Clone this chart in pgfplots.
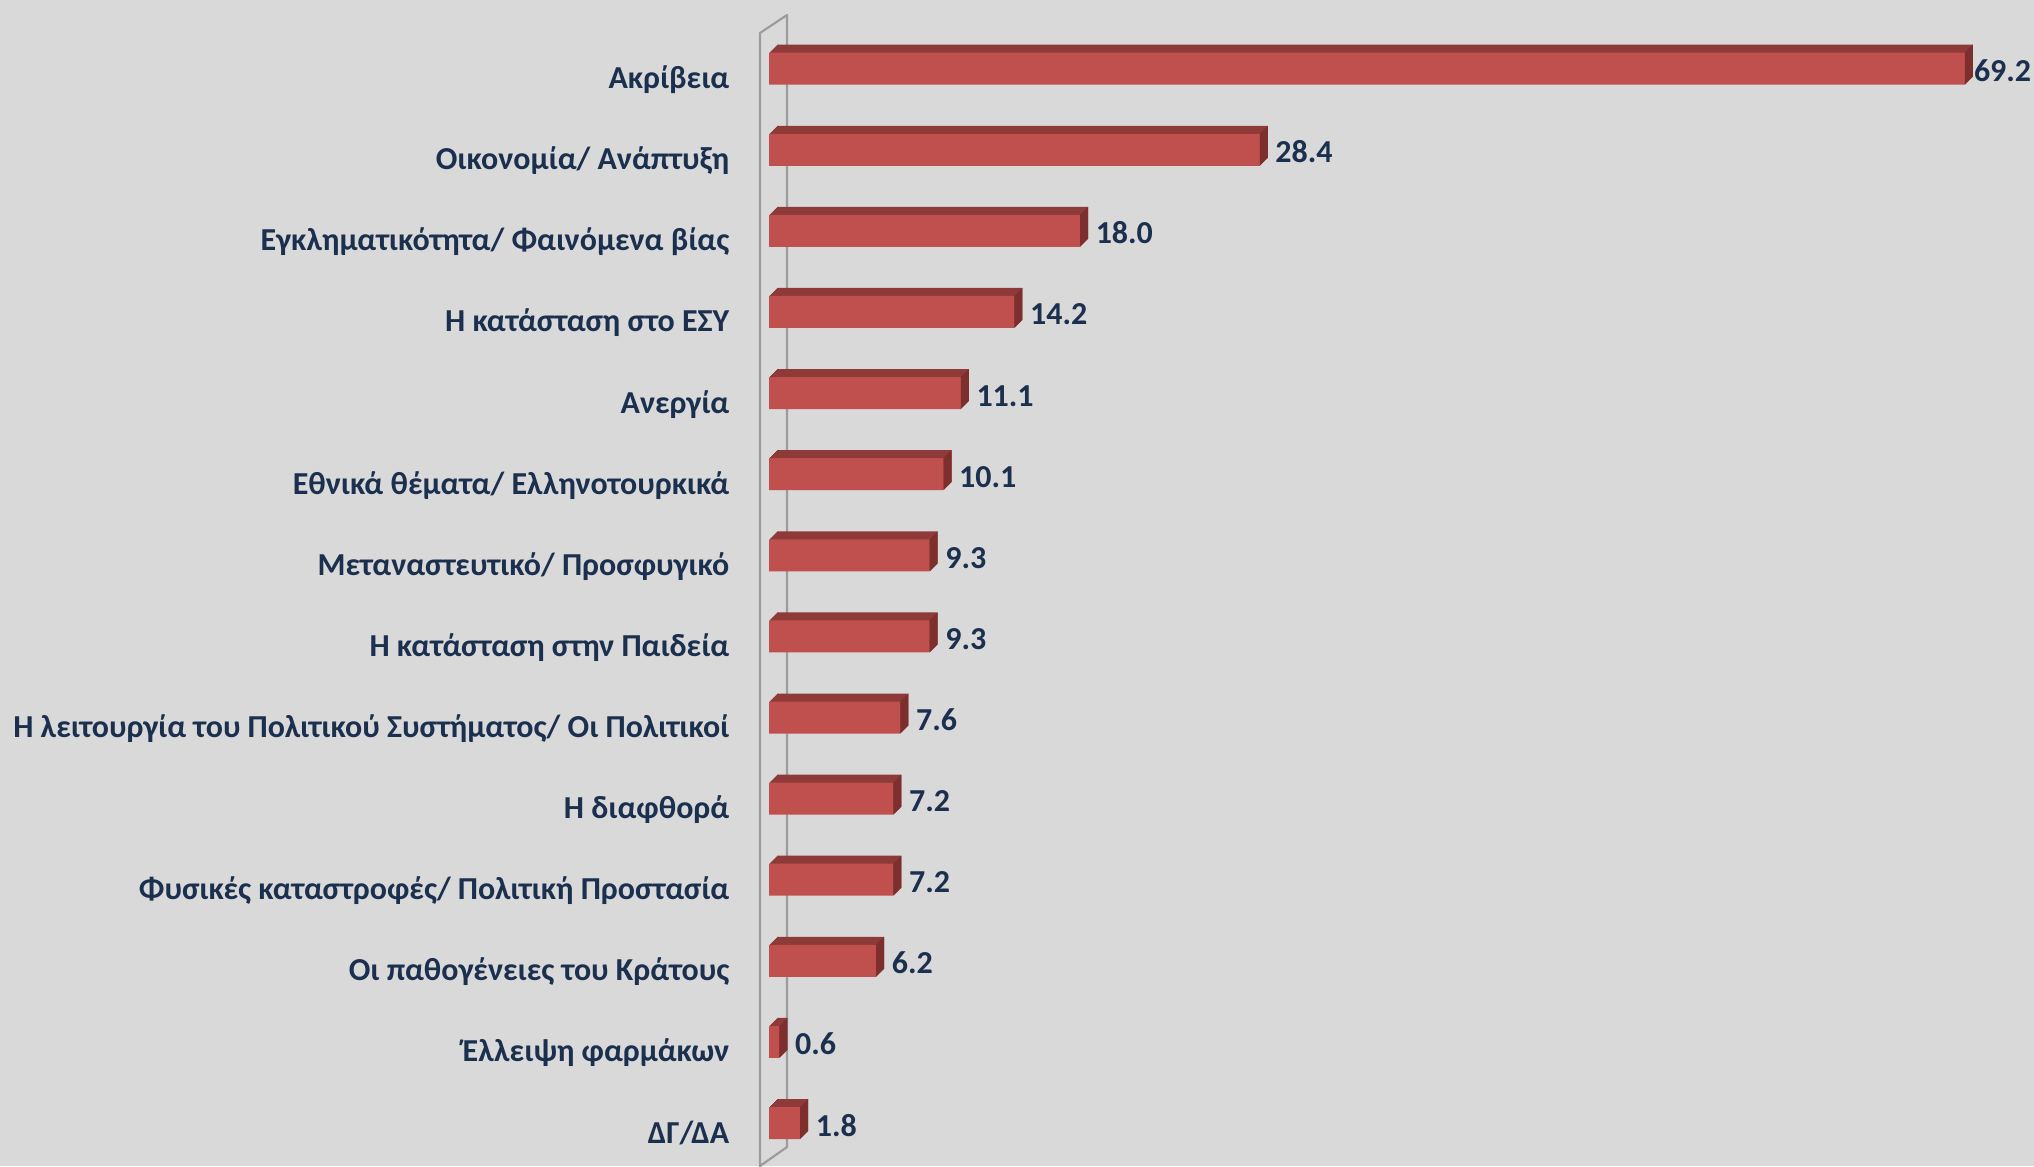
\documentclass[border=0pt]{standalone}
\usepackage{fontspec}
\setmainfont{Carlito}
\usepackage{pgfplots}
\pgfplotsset{compat=1.18}
\usepackage{pgfplotstable}
\definecolor{bg}{HTML}{D9D9D9}
\definecolor{barfront}{HTML}{C0504D}
\definecolor{bartop}{HTML}{8E3A38}
\definecolor{barside}{HTML}{7D2F2D}
\definecolor{txt}{HTML}{1B2F4E}
\definecolor{wall}{HTML}{9C9C9C}
\pgfdeclareplotmark{sideface}{%
  \pgfpathmoveto{\pgfpoint{0mm}{-1.6mm}}%
  \pgfpathlineto{\pgfpoint{0.8mm}{-0.8mm}}%
  \pgfpathlineto{\pgfpoint{0.8mm}{2.4mm}}%
  \pgfpathlineto{\pgfpoint{0mm}{1.6mm}}%
  \pgfpathclose\pgfusepathqfill}
\pgfplotstableread{
y v
13 69.2
12 28.4
11 18.0
10 14.2
9 11.1
8 10.1
7 9.3
6 9.3
5 7.6
4 7.2
3 7.2
2 6.2
1 0.6
0 1.8
}\data
\begin{document}
\begin{tikzpicture}[x=1mm,y=1mm]
\fill[bg] (0,0) rectangle (203.4,116.6);
\draw[wall, line width=0.22mm, line join=round] (76.0,-1) -- (76.0,113.3) -- (78.7,115.1) -- (78.7,1.9) -- (76.0,0);
\begin{axis}[
  anchor=origin, at={(76.9mm,4.3mm)}, disabledatascaling,
  x=1.728mm, y=8.11mm,
  xmin=0, xmax=72, ymin=-0.5, ymax=13.5,
  axis line style={draw=none}, xtick=\empty, ytick={0,...,13},
  yticklabels={{ΔΓ/ΔΑ},{Έλλειψη φαρμάκων},{Οι παθογένειες του Κράτους},{Φυσικές καταστροφές/ Πολιτική Προστασία},{Η διαφθορά},{Η λειτουργία του Πολιτικού Συστήματος/ Οι Πολιτικοί},{Η κατάσταση στην Παιδεία},{Μεταναστευτικό/ Προσφυγικό},{Εθνικά θέματα/ Ελληνοτουρκικά},{Ανεργία},{Η κατάσταση στο ΕΣΥ},{Εγκληματικότητα/ Φαινόμενα βίας},{Οικονομία/ Ανάπτυξη},{Ακρίβεια}},
  major tick length=0pt, tick style={draw=none},
  yticklabel style={anchor=base east, inner sep=0pt, xshift=-3.9mm, yshift=-2.0mm, font=\fontsize{9.1}{11}\selectfont\bfseries, text=txt},
  clip=false, xbar, bar width=3.2mm, bar shift=0pt,
]
\pgfplotsinvokeforeach{1,...,8}{
  \addplot[xbar, bar shift=0pt, fill=bartop, draw=none, xshift=#1*0.1mm, yshift=#1*0.1mm] table[x=v, y=y] {\data};
}
\addplot[only marks, mark=sideface, mark options={fill=barside, draw=none}] table[x=v, y=y] {\data};
\addplot[xbar, bar shift=0pt, fill=barfront, draw=none,
  visualization depends on={rawx \as \xval},
  nodes near coords={\pgfmathprintnumber[fixed,fixed zerofill,precision=1,assume math mode=true]{\pgfplotspointmeta}},
  nodes near coords style={anchor=base west, inner sep=0pt, xshift={ifthenelse(\xval>60,0.85,1.5)*1mm}, yshift=-1.3mm, font=\fontsize{9.1}{11}\selectfont\bfseries, text=txt}]
  table[x=v, y=y] {\data};
\end{axis}
\pgfresetboundingbox
\useasboundingbox (0,0) rectangle (203.4,116.6);
\end{tikzpicture}
\end{document}
